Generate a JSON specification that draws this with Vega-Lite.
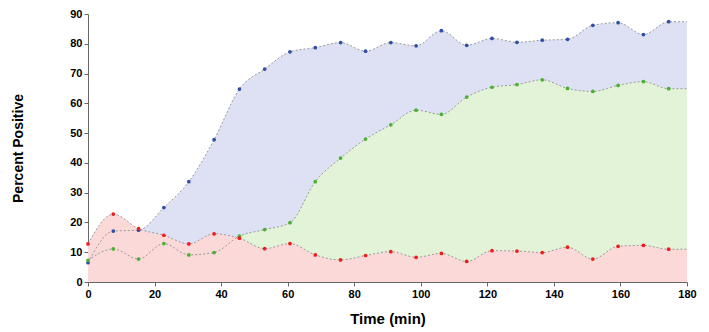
{
  "$schema": "https://vega.github.io/schema/vega-lite/v6.json",
  "autosize": {"type": "none"},
  "width": 599,
  "height": 268,
  "padding": {"left": 88, "top": 14, "right": 22, "bottom": 50},
  "background": "white",
  "config": {
    "view": {"stroke": null},
    "font": "Liberation Sans",
    "axis": {
      "grid": false,
      "labelFont": "Liberation Sans",
      "labelFontWeight": "bold",
      "labelFontSize": 11,
      "labelColor": "#000",
      "labelOverlap": false,
      "labelFlush": false,
      "labelBound": false,
      "titleFont": "Liberation Sans",
      "titleFontWeight": "bold",
      "titleColor": "#000",
      "domainColor": "#666",
      "tickColor": "#666",
      "tickSize": 4
    },
    "axisY": {"tickCount": 10, "values": [0, 10, 20, 30, 40, 50, 60, 70, 80, 90]}
  },
  "data": {
    "values": [
      {"t": 0, "red": 12.8, "green": 7.3, "blue": 6.5},
      {"t": 7.6, "red": 22.8, "green": 11.1, "blue": 17.1},
      {"t": 15.2, "red": 17.9, "green": 7.7, "blue": 17.4},
      {"t": 22.8, "red": 15.7, "green": 12.9, "blue": 25.0},
      {"t": 30.3, "red": 12.8, "green": 9.1, "blue": 33.7},
      {"t": 37.9, "red": 16.2, "green": 9.9, "blue": 47.8},
      {"t": 45.5, "red": 14.7, "green": 15.4, "blue": 64.8},
      {"t": 53.1, "red": 11.2, "green": 17.6, "blue": 71.5},
      {"t": 60.7, "red": 12.9, "green": 19.9, "blue": 77.3},
      {"t": 68.3, "red": 9.1, "green": 33.7, "blue": 78.7},
      {"t": 75.9, "red": 7.4, "green": 41.6, "blue": 80.4},
      {"t": 83.4, "red": 8.9, "green": 48.0, "blue": 77.5},
      {"t": 91.0, "red": 10.2, "green": 52.8, "blue": 80.4},
      {"t": 98.6, "red": 8.3, "green": 57.7, "blue": 79.3},
      {"t": 106.2, "red": 9.6, "green": 56.3, "blue": 84.4},
      {"t": 113.8, "red": 6.9, "green": 62.1, "blue": 79.5},
      {"t": 121.4, "red": 10.5, "green": 65.4, "blue": 81.8},
      {"t": 128.9, "red": 10.4, "green": 66.3, "blue": 80.5},
      {"t": 136.5, "red": 9.9, "green": 67.9, "blue": 81.2},
      {"t": 144.1, "red": 11.7, "green": 65.0, "blue": 81.5},
      {"t": 151.7, "red": 7.7, "green": 64.0, "blue": 86.2},
      {"t": 159.3, "red": 12.0, "green": 66.0, "blue": 87.1},
      {"t": 166.9, "red": 12.3, "green": 67.3, "blue": 83.1},
      {"t": 174.5, "red": 11.0, "green": 64.9, "blue": 87.4},
      {"t": 180, "red": 11.0, "green": 64.9, "blue": 87.4}
    ]
  },
  "encoding": {
    "x": {
      "field": "t",
      "type": "quantitative",
      "scale": {"domain": [0, 180], "nice": false},
      "axis": {"values": [0, 20, 40, 60, 80, 100, 120, 140, 160, 180], "title": "Time (min)", "titleFontSize": 15, "titlePadding": 12}
    }
  },
  "layer": [
    {
      "mark": {"type": "area", "interpolate": "monotone", "fill": "#dde1f3", "fillOpacity": 1},
      "encoding": {
        "y": {
          "field": "blue",
          "type": "quantitative",
          "scale": {"domain": [0, 90], "nice": false},
          "axis": {"values": [0, 10, 20, 30, 40, 50, 60, 70, 80, 90], "tickCount": 10, "title": "Percent Positive", "titleFontSize": 14, "titlePadding": 44}
        }
      }
    },
    {
      "mark": {"type": "area", "interpolate": "monotone", "fill": "#e2f3d8", "fillOpacity": 1},
      "encoding": {"y": {"field": "green", "type": "quantitative", "axis": {"values": [0, 10, 20, 30, 40, 50, 60, 70, 80, 90], "title": "Percent Positive"}}}
    },
    {
      "mark": {"type": "area", "interpolate": "monotone", "fill": "#fbd9d9", "fillOpacity": 1},
      "encoding": {"y": {"field": "red", "type": "quantitative", "axis": {"values": [0, 10, 20, 30, 40, 50, 60, 70, 80, 90], "title": "Percent Positive"}}}
    },
    {
      "mark": {"type": "line", "interpolate": "monotone", "stroke": "#9a9a9a", "strokeWidth": 1, "strokeDash": [2, 2]},
      "encoding": {"y": {"field": "blue", "type": "quantitative", "axis": {"values": [0, 10, 20, 30, 40, 50, 60, 70, 80, 90], "title": "Percent Positive"}}}
    },
    {
      "mark": {"type": "line", "interpolate": "monotone", "stroke": "#9a9a9a", "strokeWidth": 1, "strokeDash": [2, 2]},
      "encoding": {"y": {"field": "green", "type": "quantitative", "axis": {"values": [0, 10, 20, 30, 40, 50, 60, 70, 80, 90], "title": "Percent Positive"}}}
    },
    {
      "mark": {"type": "line", "interpolate": "monotone", "stroke": "#9a9a9a", "strokeWidth": 1, "strokeDash": [2, 2]},
      "encoding": {"y": {"field": "red", "type": "quantitative", "axis": {"values": [0, 10, 20, 30, 40, 50, 60, 70, 80, 90], "title": "Percent Positive"}}}
    },
    {
      "transform": [{"filter": "datum.t < 180"}],
      "mark": {"type": "point", "shape": "circle", "filled": true, "size": 14, "color": "#2f4fa6", "opacity": 1},
      "encoding": {"y": {"field": "blue", "type": "quantitative", "axis": {"values": [0, 10, 20, 30, 40, 50, 60, 70, 80, 90], "title": "Percent Positive"}}}
    },
    {
      "transform": [{"filter": "datum.t < 180"}],
      "mark": {"type": "point", "shape": "circle", "filled": true, "size": 14, "color": "#4cb030", "opacity": 1},
      "encoding": {"y": {"field": "green", "type": "quantitative", "axis": {"values": [0, 10, 20, 30, 40, 50, 60, 70, 80, 90], "title": "Percent Positive"}}}
    },
    {
      "transform": [{"filter": "datum.t < 180"}],
      "mark": {"type": "point", "shape": "circle", "filled": true, "size": 14, "color": "#f01c1c", "opacity": 1},
      "encoding": {"y": {"field": "red", "type": "quantitative", "axis": {"values": [0, 10, 20, 30, 40, 50, 60, 70, 80, 90], "title": "Percent Positive"}}}
    }
  ]
}
